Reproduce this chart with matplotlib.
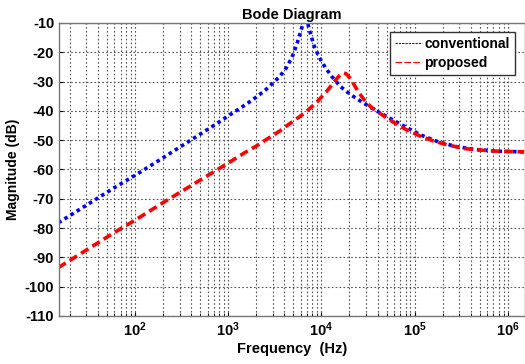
import math

import matplotlib
matplotlib.use('Agg')
import matplotlib.pyplot as plt
from matplotlib.lines import Line2D
from matplotlib.ticker import FuncFormatter, LogLocator

# 配色 (MATLAB 风格)
BLUE = '#0000FF'
RED = '#FF0000'
GRID_COLOR = '#555555'

# 数据: 频率 (Hz) / 幅值 (dB)
freq_conv = [15, 30, 60, 100, 200, 400, 700, 1000, 1500, 2000, 2500, 3000,
             3600, 4200, 4800, 5400, 5900, 6300, 6600, 6900, 7300, 7800,
             8500, 9500, 11000, 13000, 16000, 20000, 26000, 34000, 45000,
             60000, 83000, 120000, 180000, 280000, 450000, 800000, 1500000]
mag_conv = [-78.2, -72.2, -66.2, -62.0, -56.0, -49.9, -45.0, -41.7, -38.1,
            -35.3, -32.9, -30.6, -28.1, -25.3, -21.9, -17.6, -13.6, -10.5,
            -8.0, -8.0, -11.5, -14.8, -18.5, -21.8, -25.2, -28.4, -31.7,
            -34.2, -36.6, -38.9, -41.1, -43.3, -45.8, -48.4, -50.6, -52.2,
            -53.2, -53.8, -54.0]

freq_prop = [15, 30, 60, 100, 200, 400, 700, 1000, 1500, 2000, 2500, 3000,
             3600, 4200, 5000, 6000, 7000, 8000, 9000, 10000, 11500, 13000,
             14500, 15500, 16500, 17400, 18300, 19200, 20300, 21500, 23000,
             25000, 28500, 33000, 40000, 50000, 60000, 80000, 116000, 160000,
             223000, 350000, 513000, 800000, 1500000]
mag_prop = [-93.5, -87.5, -81.5, -77.3, -71.3, -65.5, -60.8, -57.8, -54.3,
            -52.0, -50.0, -48.4, -46.8, -45.2, -43.5, -41.7, -40.0, -38.4,
            -36.9, -35.3, -33.2, -31.0, -29.1, -28.1, -27.4, -27.1, -27.3,
            -27.9, -28.9, -30.1, -31.7, -33.6, -36.1, -38.3, -40.3, -42.4,
            -44.0, -46.3, -48.7, -50.3, -51.6, -52.9, -53.4, -53.8, -54.0]

legend_labels = ['conventional', 'proposed']
y_ticks = list(range(-110, 0, 10))

plt.rcParams['font.family'] = ['Liberation Sans', 'DejaVu Sans']
plt.rcParams['font.weight'] = 'bold'
plt.rcParams['axes.unicode_minus'] = False
plt.rcParams['mathtext.fontset'] = 'custom'
plt.rcParams['mathtext.rm'] = 'Liberation Sans:bold'
plt.rcParams['mathtext.bf'] = 'Liberation Sans:bold'

fig = plt.figure(figsize=(5.25, 3.64), dpi=100)
ax = fig.add_axes([0.1124, 0.132, 0.8876, 0.805])

ax.plot(freq_conv, mag_conv, color=BLUE, linestyle=(0, (1, 1)), linewidth=2.6)
ax.plot(freq_prop, mag_prop, color=RED, linestyle=(0, (2.4, 1.3)), linewidth=2.6)

ax.set_xscale('log')
ax.set_xlim(10 ** 1.183, 10 ** 6.185)
ax.set_ylim(-110, -10)
ax.set_yticks(y_ticks)
ax.xaxis.set_major_locator(LogLocator(base=10, numticks=10))
ax.xaxis.set_minor_locator(LogLocator(base=10, subs=range(2, 10), numticks=20))
ax.xaxis.set_major_formatter(FuncFormatter(lambda v, p: r'$\mathbf{10^{%d}}$' % round(math.log10(v))))

ax.tick_params(axis='both', which='both', direction='in', labelsize=10.5)
ax.tick_params(which='major', length=3)
ax.tick_params(which='minor', length=2)

ax.grid(True, which='major', axis='both', linestyle=(0, (1.5, 2)), color=GRID_COLOR, linewidth=0.8)
ax.grid(True, which='minor', axis='x', linestyle=(0, (1.5, 2)), color=GRID_COLOR, linewidth=0.8)

for s in ax.spines.values():
    s.set_color('#777777')
    s.set_linewidth(1.0)

ax.set_title('Bode Diagram', fontsize=10.5, fontweight='bold', pad=3)
ax.set_xlabel('Frequency  (Hz)', fontsize=10.5, fontweight='bold', labelpad=2)
ax.set_ylabel('Magnitude (dB)', fontsize=10, fontweight='bold', labelpad=3)

handles = [Line2D([], [], color=BLUE, linestyle=(0, (2, 1)), linewidth=0.8),
           Line2D([], [], color=RED, linestyle=(0, (6, 2)), linewidth=0.8)]
leg = ax.legend(handles, legend_labels, loc='upper right', bbox_to_anchor=(0.978, 0.969),
                borderaxespad=0, fancybox=False, framealpha=1, edgecolor='#333333',
                prop={'size': 10, 'weight': 'bold'}, handlelength=1.9, handletextpad=0.2,
                borderpad=0.35, labelspacing=0.35)
leg.get_frame().set_linewidth(1.0)

fig.savefig('out.png', dpi=100)
